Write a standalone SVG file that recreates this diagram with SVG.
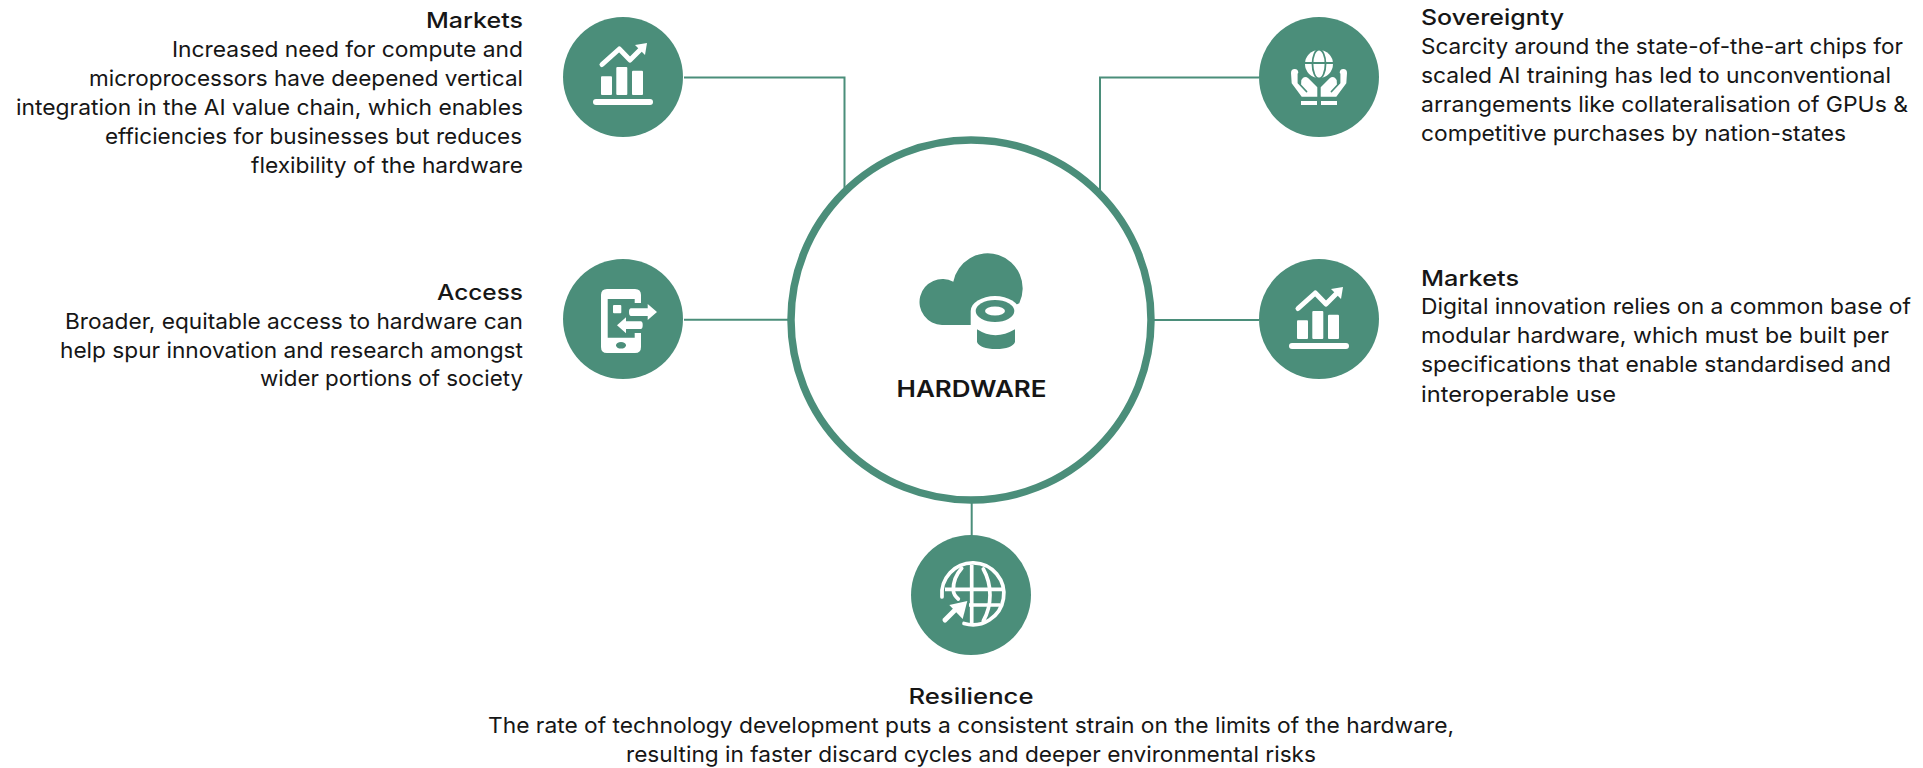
<svg xmlns="http://www.w3.org/2000/svg" width="1923" height="768" viewBox="0 0 1923 768">
<style>
text{font-family:"Inter","Noto Sans","Liberation Sans",sans-serif;fill:#161616;font-size:22px}
.t{font-weight:500}
.r{text-anchor:end}
.m{text-anchor:middle}
.c{fill:#4b8e7a}
.w{fill:#fff}
.wl{fill:none;stroke:#fff;stroke-width:5;stroke-linecap:round;stroke-linejoin:round}
.gl{fill:none;stroke:#4b8e7a;stroke-linecap:round;stroke-linejoin:round}
.line{fill:none;stroke:#4b8e7a;stroke-width:2}
</style>
<defs>
<g id="chart">
<path class="wl" d="M-21 -12.500L-3.700 -28L7 -17L17 -27"/>
<path class="w" d="M12 -32L24 -34L22 -22Z"/>
<rect class="w" x="-22" y="-0.700" width="11" height="18.700" rx="1"/>
<rect class="w" x="-6.700" y="-10" width="11" height="28" rx="1"/>
<rect class="w" x="9" y="-6.300" width="11" height="24.300" rx="1"/>
<rect class="w" x="-30" y="22" width="60" height="6" rx="3"/>
</g>
<g id="hand">
<path class="w" d="M1291 73Q1291 69 1294.700 69Q1298.300 69 1298.300 73V83L1301 86L1301.300 80Q1303 77 1305 77Q1307 77 1308.300 78.300L1317.300 87.300V96.700H1301.700L1291.700 83.300Z"/>
<path class="gl" stroke-width="1.800" d="M1298.500 74V83L1306.500 91.500"/>
<rect class="w" x="1301" y="101" width="16" height="4"/>
</g>
</defs>
<g id="connectors">
<path class="line" d="M684 77.500H844.500V195"/>
<path class="line" d="M684 319.700H795"/>
<path class="line" d="M1259 77.500H1100V200"/>
<path class="line" d="M1259 320H1147"/>
<path class="line" d="M971.700 495V536"/>
</g>
<g id="hub">
<circle cx="971" cy="320" r="180" fill="#fff" stroke="#4b8e7a" stroke-width="7.500"/>
<path class="c" d="M942 325A23 23 0 1 1 953.300 281.700A35 35 0 1 1 1019.300 303.300L970.700 325Z"/>
<path class="w" d="M970.700 311A24.300 15 0 0 1 1019.300 311V352H970.700Z"/>
<ellipse class="c" cx="995" cy="311" rx="19.300" ry="11"/>
<ellipse class="w" cx="995" cy="311" rx="10" ry="4.500"/>
<path class="c" d="M977 329.300Q995 341 1015 329.300V342Q1012 349 996 349Q980 349 977 342Z"/>
<text class="m" x="971.500" y="397" style="font-size:23px;font-weight:600" textLength="150" lengthAdjust="spacingAndGlyphs">HARDWARE</text>
</g>
<g id="node-markets-left">
<circle class="c" cx="623" cy="77" r="60"/>
<use href="#chart" x="623" y="77"/>
<text class="t r" x="523" y="28" textLength="97" lengthAdjust="spacingAndGlyphs">Markets</text>
<text class="r" x="523" y="57" textLength="351" lengthAdjust="spacingAndGlyphs">Increased need for compute and</text>
<text class="r" x="523" y="86" textLength="434" lengthAdjust="spacingAndGlyphs">microprocessors have deepened vertical</text>
<text class="r" x="523" y="115" textLength="507" lengthAdjust="spacingAndGlyphs">integration in the AI value chain, which enables</text>
<text class="r" x="522" y="144" textLength="417" lengthAdjust="spacingAndGlyphs">efficiencies for businesses but reduces</text>
<text class="r" x="523" y="173" textLength="272" lengthAdjust="spacingAndGlyphs">flexibility of the hardware</text>
</g>
<g id="node-access">
<circle class="c" cx="623" cy="319" r="60"/>
<path class="w" fill-rule="evenodd" d="M607 289H635Q641 289 641 295V303H634.700V299H607.700V337.700H634.700V333H641V347Q641 353 635 353H607Q601 353 601 347V295Q601 289 607 289Z"/>
<ellipse class="c" cx="621" cy="345.300" rx="5" ry="3.300"/>
<rect class="w" x="613" y="305" width="8.300" height="8.300" rx="1"/>
<path class="w" d="M631 308.300H647.700V304L657 312L647.700 320V316H631Q629 316 629 312Q629 308.300 631 308.300Z"/>
<path class="w" d="M640.700 321.300H626V317.300L617 325.300L626 333.300V329H640.700Q642.700 329 642.700 325Q642.700 321.300 640.700 321.300Z"/>
<text class="t r" x="523" y="300" textLength="86" lengthAdjust="spacingAndGlyphs">Access</text>
<text class="r" x="523" y="329" textLength="458" lengthAdjust="spacingAndGlyphs">Broader, equitable access to hardware can</text>
<text class="r" x="523" y="358" textLength="463" lengthAdjust="spacingAndGlyphs">help spur innovation and research amongst</text>
<text class="r" x="523" y="386" textLength="263" lengthAdjust="spacingAndGlyphs">wider portions of society</text>
</g>
<g id="node-sovereignty">
<circle class="c" cx="1319" cy="77" r="60"/>
<circle class="w" cx="1319" cy="64" r="14"/>
<ellipse class="gl" cx="1319" cy="64" rx="6.500" ry="14.500" stroke-width="1.800"/>
<path class="gl" stroke-width="1.800" d="M1303 63H1335"/>
<use href="#hand"/>
<use href="#hand" transform="translate(2638 0) scale(-1 1)"/>
<text class="t" x="1421" y="25" textLength="143" lengthAdjust="spacingAndGlyphs">Sovereignty</text>
<text x="1421" y="54" textLength="482" lengthAdjust="spacingAndGlyphs">Scarcity around the state-of-the-art chips for</text>
<text x="1421" y="83" textLength="470" lengthAdjust="spacingAndGlyphs">scaled AI training has led to unconventional</text>
<text x="1421" y="112" textLength="487" lengthAdjust="spacingAndGlyphs">arrangements like collateralisation of GPUs &amp;</text>
<text x="1421" y="141" textLength="425" lengthAdjust="spacingAndGlyphs">competitive purchases by nation-states</text>
</g>
<g id="node-markets-right">
<circle class="c" cx="1319" cy="319" r="60"/>
<use href="#chart" x="1319" y="321"/>
<text class="t" x="1421" y="286" textLength="98" lengthAdjust="spacingAndGlyphs">Markets</text>
<text x="1421" y="314" textLength="490" lengthAdjust="spacingAndGlyphs">Digital innovation relies on a common base of</text>
<text x="1421" y="343" textLength="468" lengthAdjust="spacingAndGlyphs">modular hardware, which must be built per</text>
<text x="1421" y="372" textLength="470" lengthAdjust="spacingAndGlyphs">specifications that enable standardised and</text>
<text x="1421" y="402" textLength="195" lengthAdjust="spacingAndGlyphs">interoperable use</text>
</g>
<g id="node-resilience">
<circle class="c" cx="971" cy="595" r="60"/>
<g fill="none" stroke="#fff" stroke-width="3.700" stroke-linecap="round">
<path d="M942 597A31 31 0 1 1 964 623.500"/>
<path d="M971.700 565V624" stroke-linecap="butt"/>
<path d="M945 589.300H1003M969 605H1000" stroke-linecap="butt"/>
<path d="M961.700 568.300Q953 578 953.300 590Q953.500 595 958.300 599M983.300 569Q990 581 990 595Q990 609 983.300 621"/>
</g>
<path class="w" d="M967.300 601L949.300 605L962.700 619Z"/>
<path class="wl" d="M945 620L956 609"/>
<text class="t m" x="971" y="704" textLength="125" lengthAdjust="spacingAndGlyphs">Resilience</text>
<text class="m" x="971" y="733" textLength="966" lengthAdjust="spacingAndGlyphs">The rate of technology development puts a consistent strain on the limits of the hardware,</text>
<text class="m" x="971" y="762" textLength="690" lengthAdjust="spacingAndGlyphs">resulting in faster discard cycles and deeper environmental risks</text>
</g>
</svg>
